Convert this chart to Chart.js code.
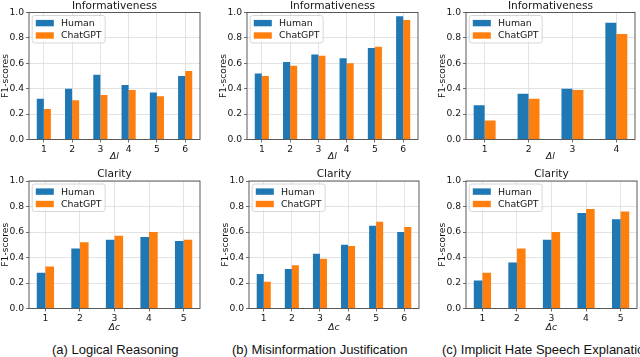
<!DOCTYPE html>
<html>
<head>
<meta charset="utf-8">
<script src="https://cdn.jsdelivr.net/npm/chart.js@4"></script>
<style>
  html, body { margin: 0; padding: 0; background: #fff; }
  body { position: relative; width: 640px; height: 357px; overflow: hidden; }
  canvas { position: absolute; }
  .cap {
    position: absolute;
    font: 13px "Liberation Sans", Arial, sans-serif;
    color: #111;
    white-space: nowrap;
    line-height: 15px;
  }
</style>
</head>
<body>
<div class="cap" style="left:52px;top:342px">(a) Logical Reasoning</div>
<div class="cap" style="left:232px;top:342px">(b) Misinformation Justification</div>
<div class="cap" style="left:442px;top:342px">(c) Implicit Hate Speech Explanation</div>
<script>
const seriesLabels = ["Human", "ChatGPT"];
const seriesColors = ["#1f77b4", "#ff7f0e"];
const yTicks = [0, 0.2, 0.4, 0.6, 0.8, 1.0];

// (a) Logical Reasoning
const logicalInfoSteps = [1, 2, 3, 4, 5, 6];
const logicalInfoHuman = [0.32, 0.40, 0.51, 0.43, 0.37, 0.50];
const logicalInfoChatGPT = [0.24, 0.31, 0.35, 0.39, 0.34, 0.54];
const logicalClaritySteps = [1, 2, 3, 4, 5];
const logicalClarityHuman = [0.28, 0.47, 0.54, 0.56, 0.53];
const logicalClarityChatGPT = [0.33, 0.52, 0.57, 0.60, 0.54];

// (b) Misinformation Justification
const misinfoInfoSteps = [1, 2, 3, 4, 5, 6];
const misinfoInfoHuman = [0.52, 0.61, 0.67, 0.64, 0.72, 0.97];
const misinfoInfoChatGPT = [0.50, 0.58, 0.66, 0.60, 0.73, 0.94];
const misinfoClaritySteps = [1, 2, 3, 4, 5, 6];
const misinfoClarityHuman = [0.27, 0.31, 0.43, 0.50, 0.65, 0.60];
const misinfoClarityChatGPT = [0.21, 0.34, 0.39, 0.49, 0.68, 0.64];

// (c) Implicit Hate Speech Explanation
const hateInfoSteps = [1, 2, 3, 4];
const hateInfoHuman = [0.27, 0.36, 0.40, 0.92];
const hateInfoChatGPT = [0.15, 0.32, 0.39, 0.83];
const hateClaritySteps = [1, 2, 3, 4, 5];
const hateClarityHuman = [0.22, 0.36, 0.54, 0.75, 0.70];
const hateClarityChatGPT = [0.28, 0.47, 0.60, 0.78, 0.76];

const FONT = '"DejaVu Sans", sans-serif';
const TEXT = "#151515";
const FRAME = "#4a4a4a";
const TICK_SIZE = 9.2;

const framePlugin = {
  id: "frame",
  afterDatasetsDraw(chart) {
    const a = chart.chartArea;
    const ctx = chart.ctx;
    ctx.save();
    ctx.strokeStyle = FRAME;
    ctx.lineWidth = 0.9;
    ctx.strokeRect(a.left, a.top, a.right - a.left, a.bottom - a.top);
    ctx.restore();
  },
};

// matplotlib style legend, upper left inside the axes
const boxLegend = {
  id: "boxLegend",
  afterDraw(chart) {
    const a = chart.chartArea;
    const ctx = chart.ctx;
    const fs = 9.4;
    ctx.save();
    ctx.font = fs + "px " + FONT;
    const names = chart.data.datasets.map((d) => d.label);
    const textW = Math.max(...names.map((t) => ctx.measureText(t).width));
    const pad = 3.6, handle = 18, gap = 7.2, pitch = 12.4;
    const x0 = a.left + 3.2, y0 = a.top + 3;
    const w = pad * 2 + handle + gap + textW;
    const h = 27.5;
    ctx.beginPath();
    ctx.roundRect(x0, y0, w, h, 2.5);
    ctx.fillStyle = "rgba(255,255,255,0.8)";
    ctx.fill();
    ctx.strokeStyle = "#cccccc";
    ctx.lineWidth = 0.8;
    ctx.stroke();
    chart.data.datasets.forEach((d, i) => {
      const cy = y0 + 7.6 + i * pitch;
      ctx.fillStyle = d.backgroundColor;
      ctx.fillRect(x0 + pad, cy - 3.2, handle, 6.4);
      ctx.fillStyle = TEXT;
      ctx.textBaseline = "middle";
      ctx.fillText(d.label, x0 + pad + handle + gap, cy + 0.5);
    });
    ctx.restore();
  },
};

function panel(box, title, xLabel, steps, human, chatgpt) {
  const yAxisW = 29;
  const left = box.l - yAxisW;
  const width = box.r - left + 4;
  const height = box.cb - box.ct;
  const titleH = 10.6 * 1.2;
  const canvas = document.createElement("canvas");
  canvas.width = width;
  canvas.height = height;
  canvas.style.left = left + "px";
  canvas.style.top = box.ct + "px";
  document.body.appendChild(canvas);

  const n = steps.length;
  const margin = 0.05 * (n - 1 + 0.5);
  const xMin = steps[0] - 0.25 - margin;
  const xMax = steps[n - 1] + 0.25 + margin;

  new Chart(canvas, {
    type: "bar",
    data: {
      datasets: [human, chatgpt].map((vals, k) => ({
        label: seriesLabels[k],
        data: steps.map((s, i) => ({ x: s, y: vals[i] })),
        backgroundColor: seriesColors[k],
        borderWidth: 0,
        categoryPercentage: 0.5,
        barPercentage: 1.0,
      })),
    },
    options: {
      responsive: false,
      animation: false,
      events: [],
      layout: {
        padding: { top: box.t - titleH - box.ct, right: 4, bottom: 0, left: 0 },
      },
      plugins: {
        legend: { display: false },
        tooltip: { enabled: false },
        title: {
          display: true,
          text: title,
          fullSize: false,
          color: TEXT,
          font: { family: FONT, size: 10.6, weight: "normal" },
          padding: 0,
        },
      },
      scales: {
        x: {
          type: "linear",
          min: xMin,
          max: xMax,
          offset: false,
          afterBuildTicks: (s) => { s.ticks = steps.map((v) => ({ value: v })); },
          afterFit: (s) => { s.height = box.cb - box.b; },
          grid: { offset: false, color: "#dcdcdc", lineWidth: 0.8, tickColor: FRAME, tickLength: 3 },
          border: { display: false },
          ticks: {
            color: TEXT,
            font: { family: FONT, size: TICK_SIZE },
            padding: 2,
            maxRotation: 0,
            autoSkip: false,
            callback: (v) => String(v),
          },
          title: {
            display: true,
            text: xLabel,
            color: TEXT,
            font: { family: FONT, size: TICK_SIZE, style: "italic" },
            padding: 0,
          },
        },
        y: {
          min: 0,
          max: 1,
          afterBuildTicks: (s) => { s.ticks = yTicks.map((v) => ({ value: v })); },
          afterFit: (s) => { s.width = yAxisW; },
          grid: { color: "#dcdcdc", lineWidth: 0.8, tickColor: FRAME, tickLength: 3 },
          border: { display: false },
          ticks: {
            color: TEXT,
            font: { family: FONT, size: TICK_SIZE },
            padding: 2,
            callback: (v) => v.toFixed(1),
          },
          title: {
            display: true,
            text: "F1-scores",
            color: TEXT,
            font: { family: FONT, size: TICK_SIZE },
            padding: 0,
          },
        },
      },
    },
    plugins: [framePlugin, boxLegend],
  });
}

const topRow = { t: 12.5, b: 139.5, ct: 0, cb: 162 };
const botRow = { t: 181, b: 309, ct: 165, cb: 333.5 };

panel({ ...topRow, l: 29, r: 200 }, "Informativeness", "Δl", logicalInfoSteps, logicalInfoHuman, logicalInfoChatGPT);
panel({ ...topRow, l: 247, r: 418 }, "Informativeness", "Δl", misinfoInfoSteps, misinfoInfoHuman, misinfoInfoChatGPT);
panel({ ...topRow, l: 466, r: 635 }, "Informativeness", "Δl", hateInfoSteps, hateInfoHuman, hateInfoChatGPT);
panel({ ...botRow, l: 29, r: 200 }, "Clarity", "Δc", logicalClaritySteps, logicalClarityHuman, logicalClarityChatGPT);
panel({ ...botRow, l: 249, r: 419 }, "Clarity", "Δc", misinfoClaritySteps, misinfoClarityHuman, misinfoClarityChatGPT);
panel({ ...botRow, l: 466, r: 637 }, "Clarity", "Δc", hateClaritySteps, hateClarityHuman, hateClarityChatGPT);
</script>
</body>
</html>
